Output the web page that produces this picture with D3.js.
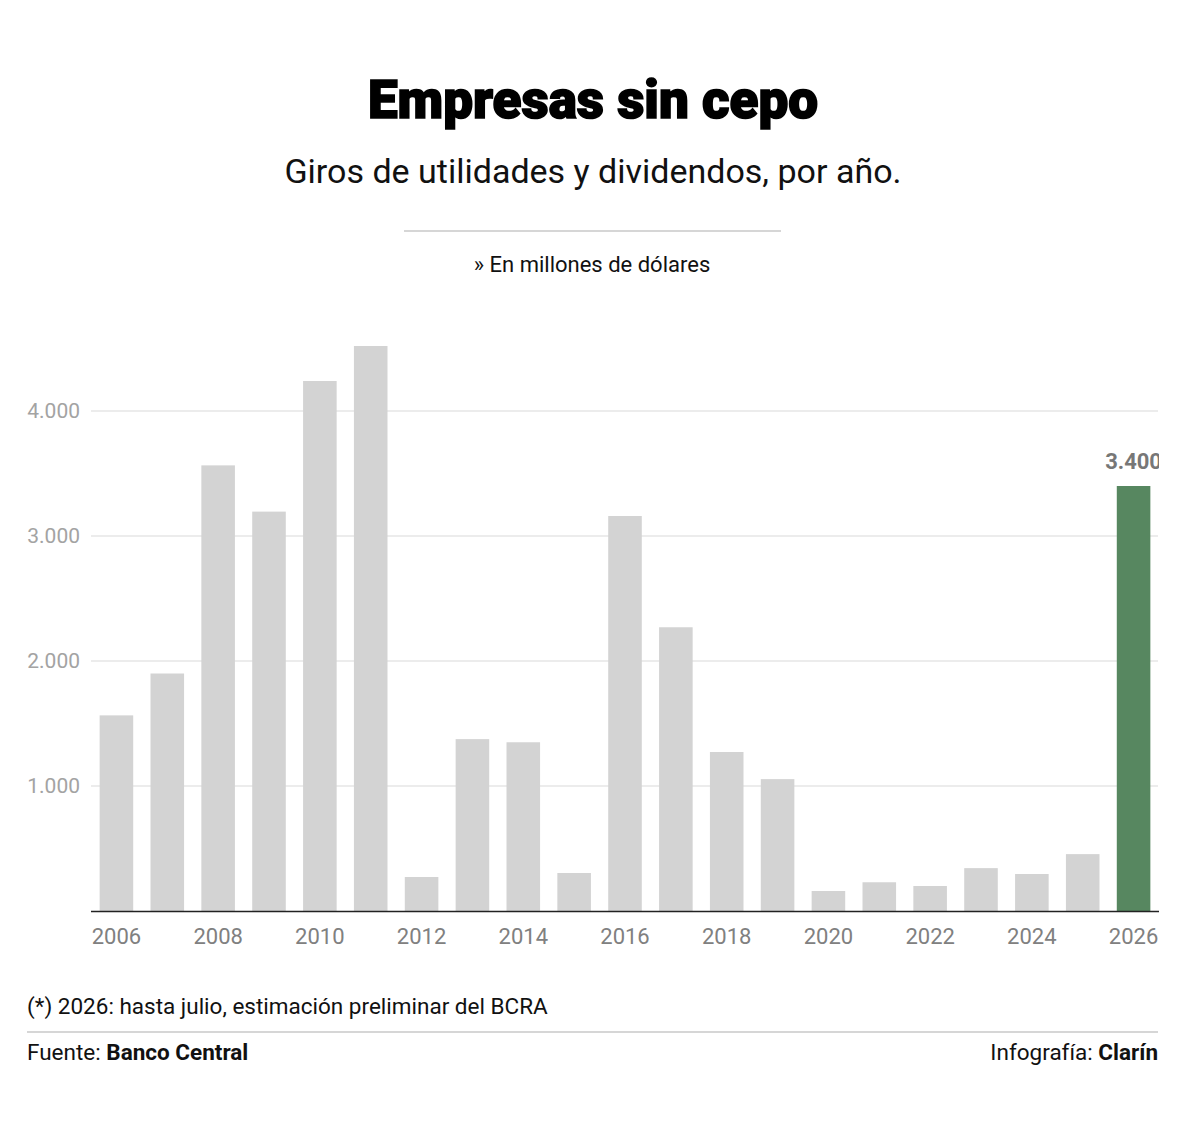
<!DOCTYPE html>
<html><head><meta charset="utf-8">
<script src="https://cdn.jsdelivr.net/npm/d3@7"></script>
<style>
body{margin:0;background:#fff;}
svg text{font-family:Roboto,"Noto Sans",sans-serif;}
</style></head>
<body>
<svg id="c" width="1200" height="1121"></svg>
<script>
const years = [2006,2007,2008,2009,2010,2011,2012,2013,2014,2015,2016,2017,2018,2019,2020,2021,2022,2023,2024,2025,2026];
const values = [1565,1900,3565,3195,4240,4520,272,1375,1350,304,3160,2270,1272,1055,160,230,200,343,296,455,3400];
const yTicks = [1000,2000,3000,4000];
const xTickYears = [2006,2008,2010,2012,2014,2016,2018,2020,2022,2024,2026];
const highlight = 2026;

(function(){
const svg = d3.select("#c");
const pLeft = 91, pRight = 1159, pTop = 411, pBottom = 911;

const x = d3.scaleBand().domain(years).range([pLeft,pRight]).paddingInner(0.34).paddingOuter(0.17);
const y = d3.scaleLinear().domain([0,4000]).range([pBottom,pTop]);

// header
svg.append("text").attr("x",593).attr("y",118).attr("text-anchor","middle")
  .style("font-family","Roboto,Inter,sans-serif").style("font-weight","900").style("font-size","53px")
  .style("letter-spacing","0px").attr("fill","#000").attr("stroke","#000").attr("stroke-width",1.6)
  .text("Empresas sin cepo");
svg.append("text").attr("x",593).attr("y",183).attr("text-anchor","middle")
  .style("font-size","34px").attr("fill","#111").text("Giros de utilidades y dividendos, por año.");
svg.append("line").attr("x1",404).attr("x2",781).attr("y1",231).attr("y2",231).attr("stroke","#c8c8c8").attr("stroke-width",1.5);
svg.append("text").attr("x",592).attr("y",272).attr("text-anchor","middle")
  .style("font-size","22px").attr("fill","#111").text("» En millones de dólares");

// grid
const g = svg.append("g");
g.selectAll("line.grid").data(yTicks).join("line").attr("class","grid")
  .attr("x1",pLeft).attr("x2",pRight-1).attr("y1",d=>y(d)).attr("y2",d=>y(d))
  .attr("stroke","#e6e6e6").attr("stroke-width",1.5);
g.selectAll("text.yt").data(yTicks).join("text").attr("class","yt")
  .attr("x",80).attr("y",d=>y(d)+7).attr("text-anchor","end")
  .style("font-size","21px").attr("fill","#a3a3a3").text(d=>d3.format(",")(d).replace(/,/g,"."));

// bars
g.selectAll("rect.bar").data(years).join("rect").attr("class","bar")
  .attr("x",d=>x(d)).attr("width",x.bandwidth())
  .attr("y",(d,i)=>y(values[i])).attr("height",(d,i)=>pBottom-y(values[i]))
  .attr("fill",d=>d===highlight?"#578760":"#d3d3d3");

// baseline
g.append("line").attr("x1",pLeft).attr("x2",pRight).attr("y1",pBottom+0.5).attr("y2",pBottom+0.5)
  .attr("stroke","#222").attr("stroke-width",1.5);

// x ticks
g.selectAll("text.xt").data(xTickYears).join("text").attr("class","xt")
  .attr("x",d=>x(d)+x.bandwidth()/2).attr("y",944).attr("text-anchor","middle")
  .style("font-size","22px").attr("fill","#808080").text(d=>d);

// value label (clipped)
svg.append("clipPath").attr("id","clp").append("rect").attr("x",0).attr("y",0).attr("width",pRight).attr("height",1121);
const hi = years.indexOf(highlight);
svg.append("text").attr("clip-path","url(#clp)")
  .attr("x",x(highlight)+x.bandwidth()/2).attr("y",y(values[hi])-17).attr("text-anchor","middle")
  .style("font-size","22px").style("font-weight","700").attr("fill","#777")
  .text(d3.format(",")(values[hi]).replace(/,/g,"."));

// footer
svg.append("text").attr("x",27).attr("y",1014).style("font-size","22.5px").attr("fill","#111")
  .text("(*) 2026: hasta julio, estimación preliminar del BCRA");
svg.append("line").attr("x1",27).attr("x2",1158).attr("y1",1032).attr("y2",1032).attr("stroke","#c8c8c8").attr("stroke-width",1.5);
const f1 = svg.append("text").attr("x",27).attr("y",1060).style("font-size","22.5px").attr("fill","#111");
f1.append("tspan").text("Fuente: ");
f1.append("tspan").style("font-weight","700").text("Banco Central");
const f2 = svg.append("text").attr("x",1158).attr("y",1060).attr("text-anchor","end").style("font-size","22.5px").attr("fill","#111");
f2.append("tspan").text("Infografía: ");
f2.append("tspan").style("font-weight","700").text("Clarín");
})();
</script>
</body></html>
